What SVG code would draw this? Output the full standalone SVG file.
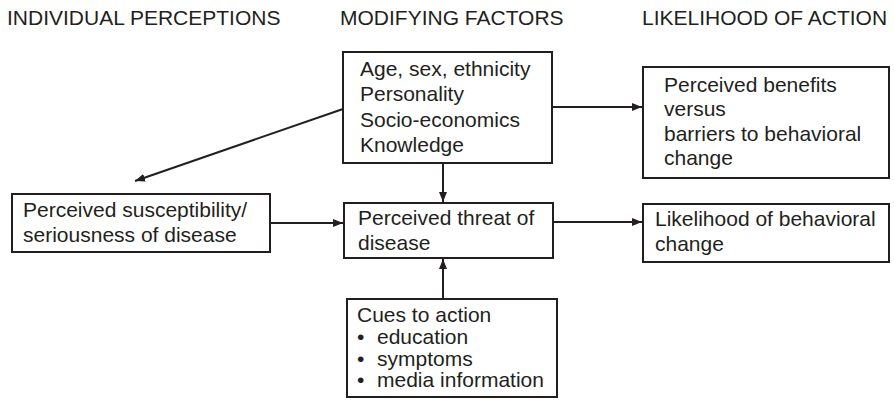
<svg xmlns="http://www.w3.org/2000/svg" width="894" height="400" viewBox="0 0 894 400">
  <defs>
    <style>
      text { font-family: "Liberation Sans", Arial, sans-serif; font-size: 21px; fill: #231f20; }
      .box { fill: #ffffff; stroke: #231f20; stroke-width: 2; }
      .conn { stroke: #231f20; stroke-width: 2; fill: none; marker-end: url(#arrow); }
    </style>
    <marker id="arrow" markerUnits="userSpaceOnUse" markerWidth="10" markerHeight="8" refX="10" refY="4" orient="auto">
      <path d="M0,0 L10,4 L0,8 z" fill="#231f20"/>
    </marker>
  </defs>
  <rect width="894" height="400" fill="#ffffff"/>

  <g id="headers">
    <text x="7" y="25">INDIVIDUAL PERCEPTIONS</text>
    <text x="340" y="25">MODIFYING FACTORS</text>
    <text x="642" y="25">LIKELIHOOD OF ACTION</text>
  </g>

  <g id="connectors">
    <line class="conn" x1="552" y1="107" x2="642" y2="107"/>
    <line class="conn" x1="343" y1="109" x2="135" y2="181"/>
    <line class="conn" x1="443" y1="163" x2="443" y2="202"/>
    <line class="conn" x1="270" y1="223" x2="343" y2="223"/>
    <line class="conn" x1="443" y1="299" x2="443" y2="259"/>
    <line class="conn" x1="553" y1="222" x2="642" y2="222"/>
  </g>

  <g id="modifying-factors">
    <rect class="box" x="343" y="52" width="209" height="111"/>
    <text x="360" y="76">Age, sex, ethnicity</text>
    <text x="360" y="101">Personality</text>
    <text x="360" y="127">Socio-economics</text>
    <text x="360" y="152">Knowledge</text>
  </g>

  <g id="perceived-benefits">
    <rect class="box" x="643" y="67" width="246" height="111"/>
    <text x="664" y="92">Perceived benefits</text>
    <text x="664" y="116">versus</text>
    <text x="664" y="141">barriers to behavioral</text>
    <text x="664" y="165">change</text>
  </g>

  <g id="perceived-susceptibility">
    <rect class="box" x="12" y="194" width="258" height="58"/>
    <text x="23" y="217">Perceived susceptibility/</text>
    <text x="23" y="242">seriousness of disease</text>
  </g>

  <g id="perceived-threat">
    <rect class="box" x="344" y="203" width="209" height="55"/>
    <text x="358" y="225">Perceived threat of</text>
    <text x="358" y="250">disease</text>
  </g>

  <g id="likelihood">
    <rect class="box" x="643" y="204" width="246" height="58"/>
    <text x="655" y="226">Likelihood of behavioral</text>
    <text x="655" y="251">change</text>
  </g>

  <g id="cues-to-action">
    <rect class="box" x="347" y="299" width="210" height="98"/>
    <text x="357" y="322">Cues to action</text>
    <text y="344"><tspan x="357">•</tspan><tspan x="377">education</tspan></text>
    <text y="366"><tspan x="357">•</tspan><tspan x="377">symptoms</tspan></text>
    <text y="387"><tspan x="357">•</tspan><tspan x="377">media information</tspan></text>
  </g>
</svg>
